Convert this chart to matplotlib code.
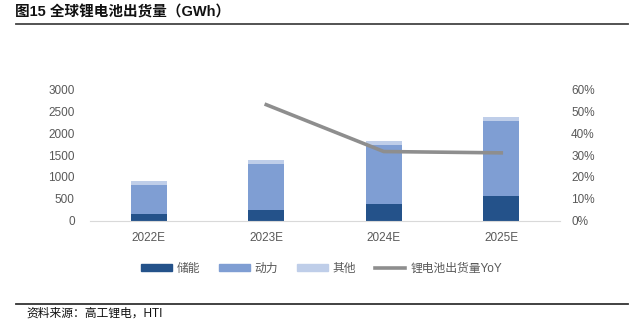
import matplotlib
matplotlib.use("Agg")
import matplotlib.pyplot as plt
from matplotlib.lines import Line2D
from matplotlib.patches import Patch
import numpy as np

plt.rcParams['font.family'] = ['Liberation Sans', 'Noto Sans CJK SC', 'DejaVu Sans']

categories = ["2022E", "2023E", "2024E", "2025E"]
storage = [150, 245, 375, 560]
power = [670, 1050, 1345, 1720]
other = [80, 90, 100, 100]
yoy = [np.nan, 53.0, 31.6, 31.0]
left_ticks = [0, 500, 1000, 1500, 2000, 2500, 3000]
right_ticks = [0, 10, 20, 30, 40, 50, 60]

c_storage = "#24528A"
c_power = "#7F9ED3"
c_other = "#BFCEE9"
c_line = "#8E8E8E"
tick_color = "#595959"

fig = plt.figure(figsize=(6.33, 3.28), dpi=100)
ax = fig.add_axes([0.1422, 0.327, 0.7425, 0.4006])
x = np.arange(len(categories))
w = 0.31
s = np.array(storage); p = np.array(power); o = np.array(other)
ax.bar(x, s, w, color=c_storage, zorder=2)
ax.bar(x, p, w, bottom=s, color=c_power, zorder=2)
ax.bar(x, o, w, bottom=s + p, color=c_other, zorder=2)
ax.set_xlim(-0.5, len(categories) - 0.5)
ax.set_ylim(0, 3000)
ax.set_yticks(left_ticks)
ax.set_yticklabels([str(t) for t in left_ticks])
ax.set_xticks(x)
ax.set_xticklabels(categories)
for sp in ["top", "right", "left"]:
    ax.spines[sp].set_visible(False)
ax.spines["bottom"].set_color("#D9D9D9")
ax.tick_params(axis="both", length=0, colors=tick_color, labelsize=8.5)
ax.tick_params(axis="x", pad=8)
ax.tick_params(axis="y", pad=11)

ax2 = ax.twinx()
ax2.plot(x, yoy, color=c_line, lw=2.6, zorder=3)
ax2.set_ylim(0, 60)
ax2.set_yticks(right_ticks)
ax2.set_yticklabels([f"{t}%" for t in right_ticks])
for sp in ["top", "right", "left", "bottom"]:
    ax2.spines[sp].set_visible(False)
ax2.tick_params(axis="y", length=0, colors=tick_color, labelsize=8.5, pad=8)

handles = [Patch(color=c_storage), Patch(color=c_power), Patch(color=c_other),
           Line2D([0], [0], color=c_line, lw=2.6)]
labels = ["储能", "动力", "其他", "锂电池出货量YoY"]
leg = fig.legend(handles, labels, loc="center", bbox_to_anchor=(0.508, 0.18), ncol=4,
                 frameon=False, fontsize=8.5, handlelength=2.6, handleheight=0.55,
                 columnspacing=1.6, handletextpad=0.4)
for t in leg.get_texts():
    t.set_color(tick_color)

fig.text(0.024, 0.963, "图15 全球锂电池出货量（GWh）", fontsize=10.5, fontweight="bold",
         va="center", ha="left", color="#111111")
fig.add_artist(Line2D([0.025, 0.992], [0.926, 0.926], color="#444444", lw=1.3))
fig.add_artist(Line2D([0.025, 0.992], [0.073, 0.073], color="#333333", lw=1.3))
fig.text(0.042, 0.045, "资料来源：高工锂电，HTI", fontsize=8.5, va="center", ha="left",
         color="#111111")

fig.savefig("out.png", dpi=100)
